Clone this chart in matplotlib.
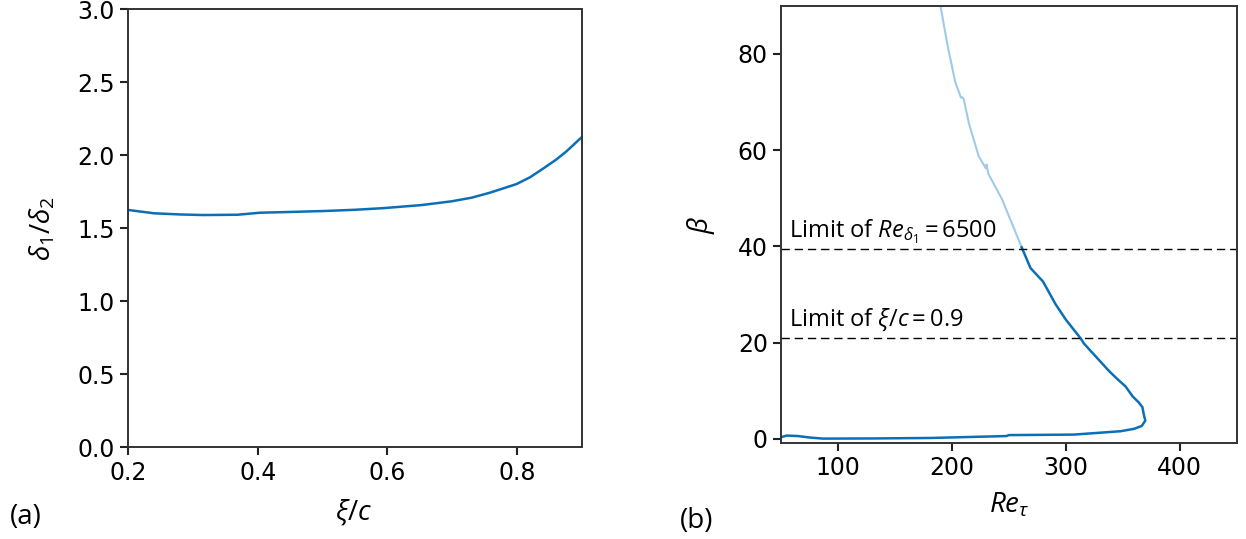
import numpy as np
import matplotlib.pyplot as plt

plt.rcParams['font.family'] = ['Open Sans', 'DejaVu Sans']
plt.rcParams['mathtext.fontset'] = 'custom'
plt.rcParams['mathtext.rm'] = 'Open Sans'
plt.rcParams['mathtext.it'] = 'Open Sans:italic'
plt.rcParams['mathtext.bf'] = 'Open Sans:bold'

# panel (a): shape factor along chord
xi_c = [0.20, 0.24, 0.28, 0.316, 0.369, 0.404, 0.45, 0.505, 0.55, 0.593, 0.652,
        0.699, 0.73, 0.758, 0.799, 0.82, 0.84, 0.86, 0.876, 0.89, 0.90]
H12 = [1.626, 1.603, 1.595, 1.591, 1.593, 1.607, 1.612, 1.619, 1.627, 1.638, 1.659,
       1.685, 1.710, 1.744, 1.803, 1.850, 1.909, 1.970, 2.027, 2.085, 2.126]

# panel (b): Clauser parameter vs Re_tau (below limit, dark)
re_dark = [50.6, 55, 64.8, 75, 86.8, 130, 181, 248, 250, 307, 348, 360, 366.7,
           369.8, 368, 367.3, 364, 358.8, 352.5, 345, 338, 316, 313, 300, 291,
           280, 269, 261.3]
beta_dark = [0.4, 0.7, 0.6, 0.3, 0.07, 0.1, 0.2, 0.6, 0.8, 0.9, 1.6, 2.1, 2.7,
             3.8, 5.6, 6.6, 7.6, 8.8, 10.9, 12.5, 14.1, 19.8, 20.9, 24.8, 28.0,
             32.7, 35.5, 39.8]
# beyond Re_delta1 limit (light)
re_light = [261.3, 244, 232, 230.5, 229.9, 223.6, 215, 210.5, 209, 208, 203, 196, 189.6]
beta_light = [39.8, 49.8, 55.1, 57.0, 56.2, 58.7, 65.5, 70.5, 71.0, 70.9, 74.1, 82, 90.5]

lim_re = 39.4
lim_xi = 20.9

dark = '#0b6fb8'
light = '#9fcbe8'

fig = plt.figure(figsize=(12.46, 5.39), dpi=100)
ax1 = fig.add_axes([0.1027, 0.1701, 0.3644, 0.8126])
ax2 = fig.add_axes([0.6268, 0.1776, 0.3657, 0.8119])

ax1.plot(xi_c, H12, color=dark, lw=1.8)
ax1.set_xlim(0.2, 0.9)
ax1.set_ylim(0, 3)
ax1.set_xticks([0.2, 0.4, 0.6, 0.8])
ax1.set_yticks(np.arange(0, 3.01, 0.5))
ax1.set_xlabel(r'$\xi/c$', fontsize=20)
ax1.set_ylabel(r'$\delta_1/\delta_2$', fontsize=20)
ax1.xaxis.set_label_coords(0.498, -0.115)
ax1.yaxis.set_label_coords(-0.156, 0.5)

ax2.plot(re_light, beta_light, color=light, lw=1.5)
ax2.plot(re_dark, beta_dark, color=dark, lw=1.8)
ax2.axhline(lim_re, color='k', lw=1.0, dashes=(6, 3.5))
ax2.axhline(lim_xi, color='k', lw=1.0, dashes=(6, 3.5))
ax2.text(57, 41.9, r'Limit of $Re_{\delta_1} = 6500$', fontsize=17, va='baseline')
ax2.text(57, 23.4, r'Limit of $\xi/c = 0.9$', fontsize=17, va='baseline')
ax2.set_xlim(50, 450)
ax2.set_ylim(-0.9, 90)
ax2.set_xticks([100, 200, 300, 400])
ax2.set_yticks([0, 20, 40, 60, 80])
ax2.set_xlabel(r'$Re_{\tau}$', fontsize=20)
ax2.set_ylabel(r'$\beta$', fontsize=20)
ax2.xaxis.set_label_coords(0.5, -0.11)
ax2.yaxis.set_label_coords(-0.14, 0.5)

for ax in (ax1, ax2):
    ax.tick_params(labelsize=17, width=1.5, length=6, color='#222222')
    for lab in ax.get_xticklabels() + ax.get_yticklabels():
        lab.set_fontfamily('DejaVu Sans')
    for s in ax.spines.values():
        s.set_linewidth(1.4)
        s.set_color('#333333')

fig.text(0.008, 0.0408, '(a)', fontsize=20, va='center')
fig.text(0.546, 0.0334, '(b)', fontsize=20, va='center')

fig.savefig('out.png', dpi=100)
